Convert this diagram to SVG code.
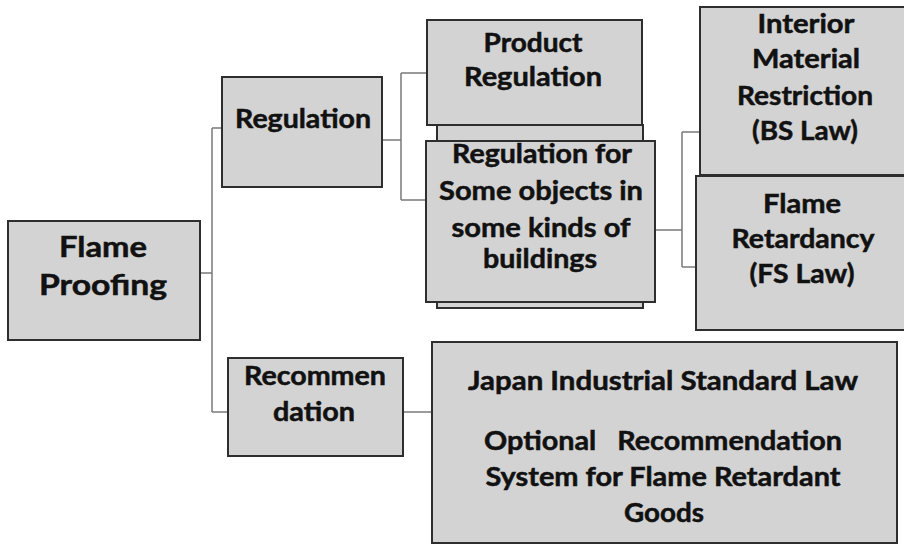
<svg xmlns="http://www.w3.org/2000/svg" width="904" height="545" viewBox="0 0 904 545">
<style>
.box{fill:#d3d3d3;stroke:#2e2e2e;stroke-width:2}
.t{font-family:Lato,"Open Sans","Liberation Sans",sans-serif;font-weight:700;font-size:26px;fill:#111;stroke:#111;stroke-width:0.5;text-anchor:middle}
.c{fill:none;stroke:#7a7a7a;stroke-width:1.5}
</style>
<rect width="904" height="545" fill="#ffffff"/>
<g id="connectors" class="c">
<path d="M200,273 H212 M212,128 V412 M212,128 H222 M212,412 H228"/>
<path d="M383,140 H401 M401,73 V200 M401,73 H427 M401,200 H426"/>
<path d="M655,230 H682 M682,132 V267 M682,132 H700 M682,267 H696"/>
<path d="M403,412 H432"/>
</g>
<g id="flame-proofing">
<rect class="box" x="8" y="221" width="192" height="119"/>
<text class="t" x="103" y="257" textLength="88" lengthAdjust="spacingAndGlyphs" style="font-size:29px">Flame</text>
<text class="t" x="103" y="295" textLength="128" lengthAdjust="spacingAndGlyphs" style="font-size:29px">Proofing</text>
</g>
<g id="regulation">
<rect class="box" x="222" y="77" width="160" height="110"/>
<text class="t" x="303" y="128" textLength="136" lengthAdjust="spacingAndGlyphs">Regulation</text>
</g>
<g id="product-regulation">
<rect class="box" x="427" y="20" width="215" height="105"/>
<text class="t" x="533" y="52" textLength="99" lengthAdjust="spacingAndGlyphs">Product</text>
<text class="t" x="533" y="86" textLength="138" lengthAdjust="spacingAndGlyphs">Regulation</text>
</g>
<g id="regulation-for">
<rect class="box" x="437" y="125" width="206" height="183"/>
<rect class="box" x="426" y="141" width="229" height="161"/>
<text class="t" x="542" y="163" textLength="180" lengthAdjust="spacingAndGlyphs">Regulation for</text>
<text class="t" x="541" y="200" textLength="204" lengthAdjust="spacingAndGlyphs">Some objects in</text>
<text class="t" x="541" y="237" textLength="179" lengthAdjust="spacingAndGlyphs">some kinds of</text>
<text class="t" x="540" y="268" textLength="114" lengthAdjust="spacingAndGlyphs">buildings</text>
</g>
<g id="interior-material">
<rect class="box" x="700" y="7" width="206" height="168"/>
<text class="t" x="806" y="33" textLength="97" lengthAdjust="spacingAndGlyphs">Interior</text>
<text class="t" x="806" y="68" textLength="108" lengthAdjust="spacingAndGlyphs">Material</text>
<text class="t" x="805" y="105" textLength="136" lengthAdjust="spacingAndGlyphs">Restriction</text>
<text class="t" x="805" y="140" textLength="106" lengthAdjust="spacingAndGlyphs">(BS Law)</text>
</g>
<g id="flame-retardancy">
<rect class="box" x="696" y="176" width="210" height="154"/>
<text class="t" x="802" y="213" textLength="78" lengthAdjust="spacingAndGlyphs">Flame</text>
<text class="t" x="803" y="248" textLength="143" lengthAdjust="spacingAndGlyphs">Retardancy</text>
<text class="t" x="802" y="283" textLength="105" lengthAdjust="spacingAndGlyphs">(FS Law)</text>
</g>
<g id="recommendation">
<rect class="box" x="228" y="358" width="175" height="98"/>
<text class="t" x="315" y="385" textLength="142" lengthAdjust="spacingAndGlyphs">Recommen</text>
<text class="t" x="314" y="421" textLength="82" lengthAdjust="spacingAndGlyphs">dation</text>
</g>
<g id="japan-industrial-standard">
<rect class="box" x="432" y="342" width="465" height="201"/>
<text class="t" x="663" y="390" textLength="390" lengthAdjust="spacingAndGlyphs">Japan Industrial Standard Law</text>
<text class="t" x="663" y="450" textLength="358" lengthAdjust="spacingAndGlyphs" style="white-space:pre">Optional   Recommendation</text>
<text class="t" x="663" y="486" textLength="355" lengthAdjust="spacingAndGlyphs">System for Flame Retardant</text>
<text class="t" x="664" y="522" textLength="80" lengthAdjust="spacingAndGlyphs">Goods</text>
</g>
</svg>
